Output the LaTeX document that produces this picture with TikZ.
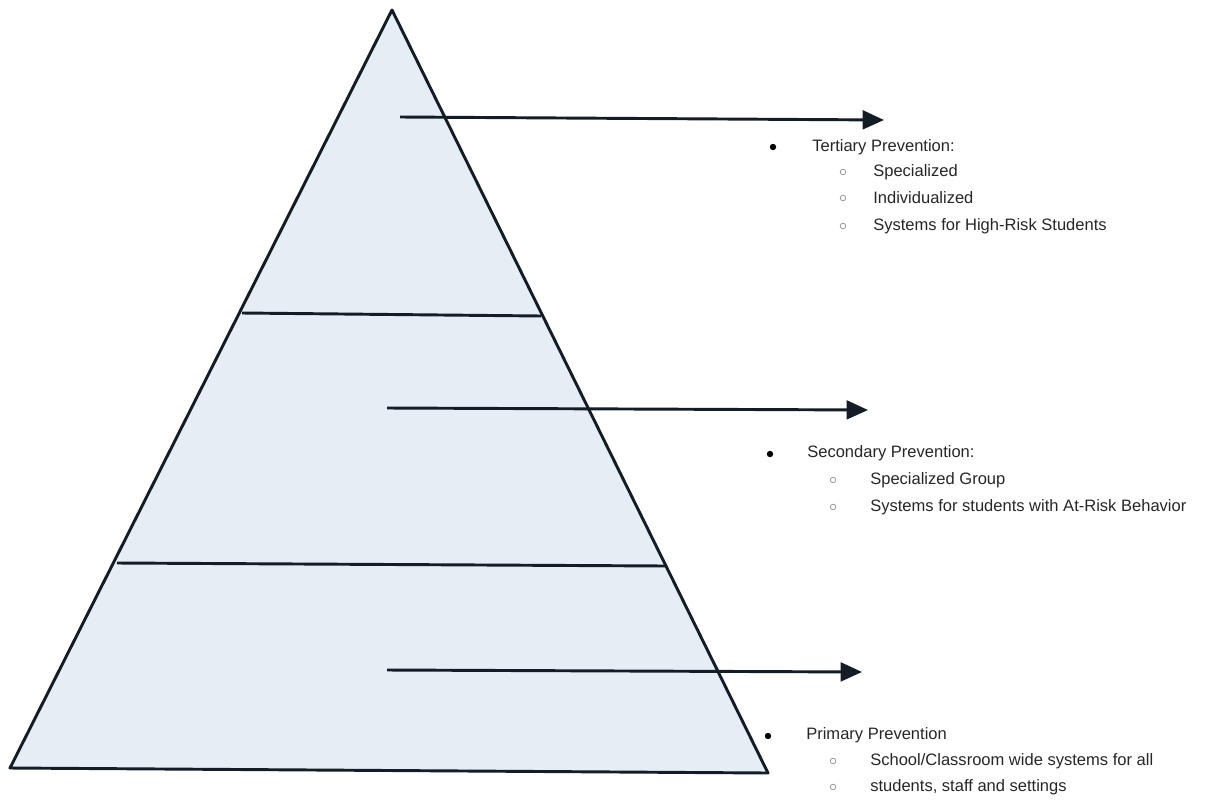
\documentclass[tikz,border=0pt]{standalone}
\usepackage{fontspec}
\setmainfont{Liberation Sans}
\usetikzlibrary{arrows.meta}
\definecolor{pyrfill}{RGB}{229,237,245}
\definecolor{linecol}{RGB}{20,28,38}
\definecolor{subgray}{RGB}{150,150,150}
\tikzset{
  edge/.style={draw=linecol, line width=2.2pt},
  tierline/.style={draw=linecol, line width=2.2pt},
  pointer/.style={draw=linecol, line width=2.2pt, -{Triangle[length=16pt,width=14pt]}},
  headtxt/.style={anchor=west, inner sep=0pt, font=\fontsize{12.4pt}{14pt}\selectfont, text=black!85},
  subtxt/.style={anchor=west, inner sep=0pt, font=\fontsize{12.4pt}{14pt}\selectfont, text=black!85},
  dot/.style={circle, fill=black, inner sep=0pt, minimum size=4.8pt},
  ring/.style={circle, draw=subgray, line width=0.6pt, inner sep=0pt, minimum size=4.2pt}
}
\begin{document}
\begin{tikzpicture}[x=0.75pt,y=-0.75pt]
\useasboundingbox (0,0) rectangle (1212,799);
% triangle
\coordinate (apex) at (392,10);
\coordinate (bl) at (10,768);
\coordinate (br) at (768,773);
\fill[pyrfill] (apex) -- (bl) -- (br) -- cycle;
\draw[edge, line join=round] (apex) -- (bl) -- (br) -- cycle;
% tier lines
\coordinate (t1l) at (242,313);
\coordinate (t1r) at (541,316);
\coordinate (t2l) at (117,563);
\coordinate (t2r) at (665,566);
\draw[tierline] (t1l) -- (t1r);
\draw[tierline] (t2l) -- (t2r);
% arrows
\coordinate (a1s) at (400,117);
\coordinate (a1e) at (884,120);
\coordinate (a2s) at (387,408);
\coordinate (a2e) at (868,410);
\coordinate (a3s) at (387,670);
\coordinate (a3e) at (862,672);
\draw[pointer] (a1s) -- (a1e);
\draw[pointer] (a2s) -- (a2e);
\draw[pointer] (a3s) -- (a3e);
% Tertiary
\node[dot] (b1) at (773,147) {};
\node[headtxt] (h1) at (812,147) {Tertiary Prevention:};
\node[ring] (r11) at (843,172) {};
\node[subtxt] (s11) at (873,172) {Specialized};
\node[ring] (r12) at (843,198) {};
\node[subtxt] (s12) at (873,198) {Individualized};
\node[ring] (r13) at (843,226) {};
\node[subtxt] (s13) at (873,226) {Systems for High-Risk Students};
% Secondary
\node[dot] (b2) at (770,454) {};
\node[headtxt] (h2) at (807,453) {Secondary Prevention:};
\node[ring] (r21) at (833,480) {};
\node[subtxt] (s21) at (870,480) {Specialized Group};
\node[ring] (r22) at (833,507) {};
\node[subtxt] (s22) at (870,507) {Systems for students with At-Risk Behavior};
% Primary
\node[dot] (b3) at (768,736) {};
\node[headtxt] (h3) at (806,735) {Primary Prevention};
\node[ring] (r31) at (833,761) {};
\node[subtxt] (s31) at (870,761) {School/Classroom wide systems for all};
\node[ring] (r32) at (833,787) {};
\node[subtxt] (s32) at (870,787) {students, staff and settings};
\end{tikzpicture}
\end{document}
